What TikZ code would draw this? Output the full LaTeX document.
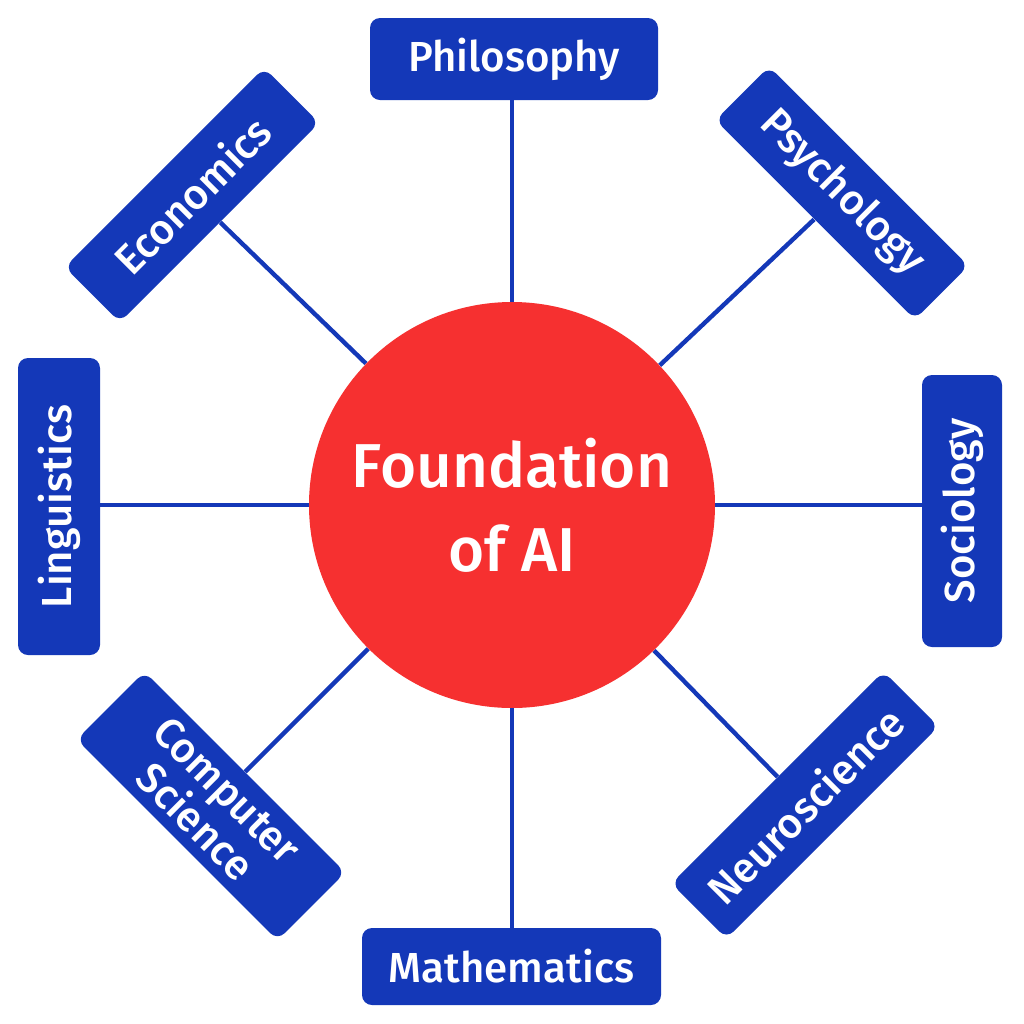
\documentclass[tikz,border=0pt]{standalone}
\usepackage{fontspec}
\setmainfont{Fira Sans}[UprightFont={Fira Sans Medium}]
\definecolor{boxblue}{RGB}{20,56,184}
\definecolor{hubred}{RGB}{246,48,48}
\tikzset{
  field/.style={fill=boxblue, rounded corners=5pt, text=white, inner sep=0pt,
    font=\fontsize{21}{24}\selectfont, align=center},
  link/.style={draw=boxblue, line width=2.2pt},
}
\begin{document}
\begin{tikzpicture}[x=0.5pt,y=-0.5pt]
\useasboundingbox (0,0) rectangle (1024,1024);
\fill[white] (0,0) rectangle (1024,1024);
\node[circle, fill=hubred, minimum size=203pt, inner sep=0pt, text=white,
  font=\fontsize{31}{42}\selectfont, align=center] (hub) at (512,505) {Foundation\\of AI};
\node[field, minimum width=144pt, minimum height=41pt] (phil) at (514,59) {Philosophy};
\node[field, minimum width=149.5pt, minimum height=38.5pt] (math) at (511.5,966.5) {Mathematics};
\node[field, minimum width=148.5pt, minimum height=41pt, rotate=90] (ling) at (59,506.5) {Linguistics};
\node[field, minimum width=136pt, minimum height=40pt, rotate=90] (soc) at (962,511) {Sociology};
\node[field, minimum width=141pt, minimum height=39pt, rotate=45] (econ) at (192,195) {Economics};
\node[field, minimum width=141pt, minimum height=38pt, rotate=-45] (psy) at (842,193) {Psychology};
\node[field, minimum width=142pt, minimum height=48pt, rotate=-45,
  font=\fontsize{21}{20}\selectfont] (cs) at (211,806) {Computer\\Science};
\node[field, minimum width=150pt, minimum height=39pt, rotate=45] (neuro) at (805,805) {Neuroscience};
\draw[link] (hub.north) -- (hub.north |- phil.south);
\draw[link] (hub.south) -- (hub.south |- math.north);
\draw[link] (hub.west) -- (hub.west -| ling.south);
\draw[link] (hub.east) -- (hub.east -| soc.north);
\foreach \n in {econ,psy,cs,neuro}
  \draw[link] (hub) -- (\n);
\end{tikzpicture}
\end{document}
